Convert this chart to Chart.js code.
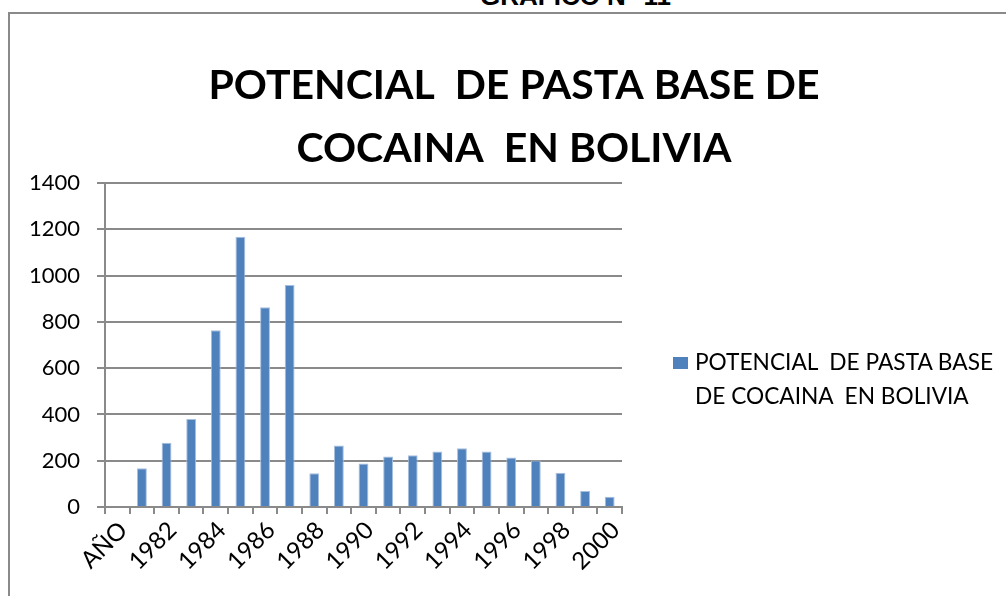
<!DOCTYPE html>
<html>
<head>
<meta charset="utf-8">
<script src="https://cdn.jsdelivr.net/npm/chart.js@4.4.1/dist/chart.umd.min.js"></script>
<style>
  html, body { margin: 0; padding: 0; background: #fff; width: 1006px; height: 596px; overflow: hidden; }
  #caja { position: absolute; left: 8px; top: 12px; width: 1100px; height: 700px; border-left: 2px solid #8a8a8a; border-top: 2px solid #8a8a8a; }
  #grafico { position: absolute; left: 480px; top: -19px; font-family: "Liberation Sans", Arial, sans-serif; font-weight: bold; font-size: 26px; color: #000; white-space: pre; }
  #lienzo { position: absolute; left: 0; top: 0; width: 1006px; height: 596px; }
  #leyenda { position: absolute; left: 673px; top: 345px; font-family: Lato, sans-serif; font-size: 22.7px; line-height: 34px; color: #000; white-space: pre; }
  #leyenda .cuadro { position: absolute; left: 0; top: 12px; width: 15px; height: 12px; background: #4f81bd; }
  #leyenda .texto { margin-left: 22px; }
</style>
</head>
<body>
<div id="grafico">GRAFICO N° 11</div>
<div id="caja"></div>
<canvas id="lienzo" width="1006" height="596"></canvas>
<div id="leyenda"><span class="cuadro"></span><div class="texto">POTENCIAL  DE PASTA BASE
DE COCAINA  EN BOLIVIA</div></div>
<script>
// --- Datos del gráfico ---
const categorias = ['AÑO', '1981', '1982', '1983', '1984', '1985', '1986', '1987', '1988', '1989', '1990',
                    '1991', '1992', '1993', '1994', '1995', '1996', '1997', '1998', '1999', '2000'];
const potencial = [null, 167, 278, 380, 764, 1168, 863, 959, 146, 266, 188,
                   218, 224, 240, 254, 240, 214, 201, 148, 69, 44];
const tituloLineas = ['POTENCIAL  DE PASTA BASE DE', 'COCAINA  EN BOLIVIA'];
const nombreSerie = 'POTENCIAL  DE PASTA BASE DE COCAINA  EN BOLIVIA';

const gris = '#8a8a8a';

new Chart(document.getElementById('lienzo'), {
    type: 'bar',
    data: {
        labels: categorias,
        datasets: [{
            label: nombreSerie,
            data: potencial,
            backgroundColor: '#4f81bd',
            borderColor: '#a7bfde',
            borderWidth: { left: 1, right: 1, top: 1, bottom: 0 },
            categoryPercentage: 1,
            barPercentage: 0.4
        }]
    },
    options: {
        responsive: false,
        animation: false,
        layout: { padding: { left: 22, right: 0, top: 0, bottom: 0 } },
        plugins: {
            legend: { display: false },
            tooltip: { enabled: false },
            title: {
                display: true,
                text: tituloLineas,
                color: '#000',
                font: { family: 'Lato', weight: 'bold', size: 41, lineHeight: '63px' },
                padding: { top: 54.5, bottom: 2.5 }
            }
        },
        scales: {
            x: {
                grid: { display: true, drawOnChartArea: false, drawTicks: true, tickLength: 7, color: gris, lineWidth: 2, offset: true },
                border: { display: true, color: gris, width: 2 },
                ticks: {
                    autoSkip: false,
                    maxRotation: 45,
                    minRotation: 45,
                    padding: 2,
                    labelOffset: 6,
                    color: '#000',
                    font: { family: 'Lato', size: 24 },
                    callback: function(valor, indice) {
                        return indice % 2 === 0 ? categorias[indice] : '';
                    }
                },
                afterFit: function(escala) { escala.height = 89; }
            },
            y: {
                min: 0,
                max: 1400,
                grid: { color: gris, lineWidth: 2, tickLength: 8 },
                border: { display: true, color: gris, width: 2 },
                ticks: {
                    stepSize: 200,
                    padding: 17,
                    color: '#000',
                    font: { family: 'Lato', size: 22 },
                    callback: function(valor) { return String(valor); }
                },
                afterFit: function(escala) { escala.width = 83; }
            },
            espacioLeyenda: {
                type: 'linear',
                position: 'right',
                display: true,
                grid: { display: false },
                border: { display: false },
                ticks: { display: false },
                afterFit: function(escala) { escala.width = 384; }
            }
        }
    }
});
</script>
</body>
</html>
